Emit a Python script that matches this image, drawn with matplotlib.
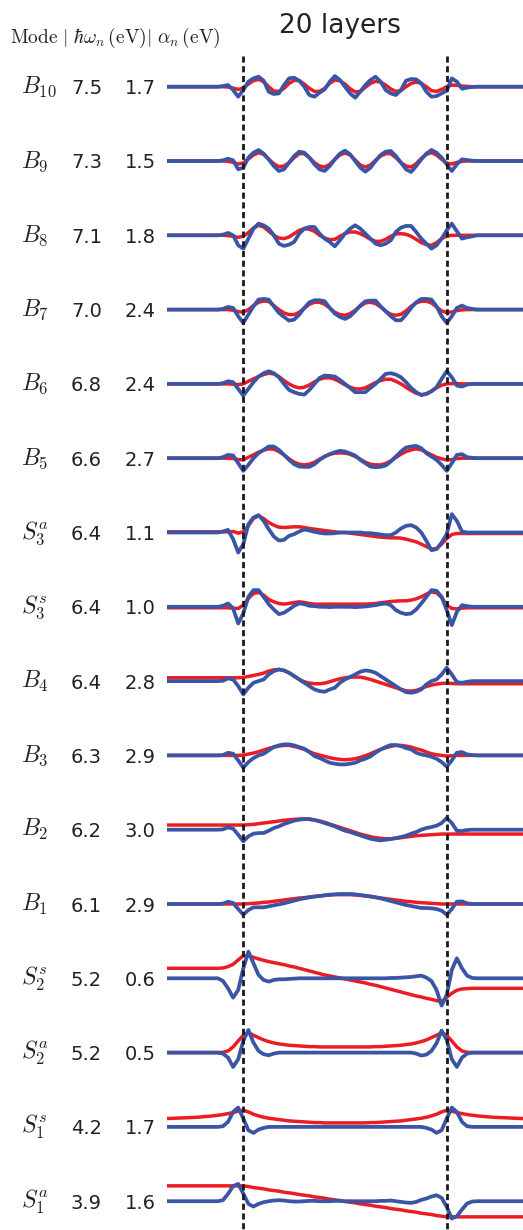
import matplotlib
matplotlib.use('Agg')
import matplotlib.pyplot as plt

plt.rcParams['mathtext.fontset'] = 'cm'
plt.rcParams['font.family'] = ['DejaVu Sans']

# ---------------- data ----------------
layer_pos = [-7.55, -6, -4.5, -3, -2.5, -2, -1.5, -1, -0.5,
             0, 0.5, 1, 1.5, 2, 2.5, 3, 3.5, 4, 4.5,
             5, 5.5, 6, 6.5, 7, 7.5, 8, 8.5, 9, 9.5,
             10, 10.5, 11, 11.5, 12, 12.5, 13, 13.5, 14, 14.5,
             15, 15.5, 16, 16.5, 17, 17.5, 18, 18.5, 19, 19.5,
             20, 20.5, 21, 21.5, 22, 22.5, 23, 24.5, 26, 27.5]

modes = [r'$B_{10}$', r'$B_9$', r'$B_8$', r'$B_7$', r'$B_6$', r'$B_5$',
         r'$S_3^a$', r'$S_3^s$', r'$B_4$', r'$B_3$', r'$B_2$', r'$B_1$',
         r'$S_2^s$', r'$S_2^a$', r'$S_1^s$', r'$S_1^a$']
energies = ['7.5', '7.3', '7.1', '7.0', '6.8', '6.6', '6.4', '6.4',
            '6.4', '6.3', '6.2', '6.1', '5.2', '5.2', '4.2', '3.9']
alphas = ['1.7', '1.5', '1.8', '2.4', '2.4', '2.7', '1.1', '1.0',
          '2.8', '2.9', '3.0', '2.9', '0.6', '0.5', '1.7', '1.6']

blue_B10 = [0,0,0,0,0,2,5,-10,-30,
            -10,15,25,30,18,-15,-22,-20,5,25,
            27,18,0,-25,-30,-18,-8,15,32,20,
            0,-20,-33,-15,5,20,30,15,-10,-20,
            -25,-10,18,23,22,10,-15,-30,-28,-20,
            -12,25,15,-6,-3,-1,0,0,0,0]
red_B10 = [0,0,0,0,0,0,-1,-4,-8,
           -4,8,18,22,15,0,-13,-14,-5,10,
           19,18,8,-5,-14,-14,-5,10,20,18,
           8,-6,-16,-14,-2,10,16,14,5,-7,
           -14,-12,0,10,14,10,0,-12,-14,-8,
           0,5,4,2,1,0,0,0,0,0]
blue_B9 = [0,0,0,0,0,2,7,2,-25,
           -20,10,25,33,22,5,-15,-30,-25,-5,
           15,28,25,10,-10,-25,-30,-15,5,22,
           31,20,0,-20,-32,-20,0,18,28,30,
           15,-5,-25,-33,-15,5,22,33,25,10,
           -10,-30,-10,5,3,1,0,0,0,0]
red_B9 = [0,0,0,0,0,0,-1,-4,-9,
          -6,6,18,25,20,5,-8,-17,-15,-5,
          10,22,22,10,-5,-15,-18,-10,5,18,
          24,18,3,-12,-18,-12,2,15,22,22,
          10,-5,-15,-18,-8,8,20,25,18,5,
          -6,-9,-4,-1,0,0,0,0,0,0]
blue_B8 = [0,0,0,0,0,2,7,0,-30,
           -40,-10,20,35,30,20,0,-25,-32,-28,
           -20,5,20,25,25,5,-10,-20,-33,-15,
           5,20,30,20,5,-10,-25,-30,-25,-15,
           10,23,28,28,10,-10,-25,-40,-30,-10,
           15,35,12,-10,-6,-3,0,0,0,0]
red_B8 = [0,0,0,0,0,0,-1,-3,-6,
          -3,8,22,30,25,12,0,-8,-10,-5,
          5,15,20,18,12,0,-8,-13,-12,-3,
          5,10,10,5,-3,-12,-18,-18,-12,-3,
          4,5,3,-3,-12,-22,-28,-30,-22,-10,
          -2,0,0,0,0,0,0,0,0,0]
blue_B7 = [0,0,0,0,0,2,8,5,-20,
           -40,-15,10,30,32,30,10,-10,-22,-33,
           -30,-15,5,22,28,28,25,5,-12,-22,
           -28,-20,-5,12,25,27,27,10,-5,-20,
           -32,-32,-15,5,22,32,32,30,10,-20,
           -40,-20,5,12,5,2,0,0,0,0]
red_B7 = [0,0,0,0,0,0,0,-2,-6,
          -8,0,12,22,26,24,12,0,-10,-15,
          -15,-8,4,16,22,22,16,5,-8,-15,
          -17,-12,-2,10,20,22,18,8,-5,-14,
          -17,-14,-4,10,20,25,25,20,8,-4,
          -9,-7,-3,-1,0,0,0,0,0,0]
blue_B6 = [0,0,0,0,0,2,8,5,-15,
           -35,-15,5,22,32,38,32,20,0,-18,
           -25,-30,-32,-18,0,18,25,24,22,12,
           0,-12,-25,-25,-25,-12,0,15,30,32,
           28,20,5,-12,-25,-34,-30,-22,-10,15,
           38,20,-5,-8,-2,0,0,0,0,0]
red_B6 = [0,0,0,0,0,0,0,-1,-2,
          0,8,15,22,28,32,30,22,10,0,
          -8,-12,-10,-3,6,14,18,18,14,6,
          -3,-10,-15,-15,-12,-4,4,10,14,14,
          8,0,-10,-20,-28,-32,-30,-22,-12,-4,
          0,1,1,0,0,0,0,0,0,0]
blue_B5 = [0,0,0,0,0,3,10,8,-15,
           -38,-20,0,15,25,35,35,25,10,-5,
           -18,-25,-26,-26,-18,-5,5,12,18,22,
           20,14,8,-5,-15,-25,-27,-26,-22,-10,
           5,20,32,35,37,30,15,5,-5,-20,
           -38,-15,10,12,3,1,0,0,0,0]
red_B5 = [0,0,0,0,0,0,0,-1,-4,
          -5,3,10,18,24,28,27,20,10,-2,
          -12,-18,-20,-18,-12,-3,5,12,15,16,
          15,12,5,-3,-12,-18,-20,-20,-16,-8,
          2,12,20,25,28,25,18,10,3,-2,
          -5,-4,-1,0,0,0,0,0,0,0]
blue_S3a = [0,0,0,0,0,3,8,-20,-60,
            -35,25,45,52,35,10,-12,-24,-22,-10,
            -5,3,9,6,2,-1,-3,-3,-2,0,
            0,0,0,0,-2,-2,-4,-6,-8,-8,
            0,12,20,22,15,0,-25,-53,-50,-30,
            -5,55,35,3,0,0,0,0,0,0]
red_S3a = [2,2,2,2,2,2,2,3,-2,
           2,20,42,50,42,30,22,16,15,16,
           17,17,15,12,10,8,6,4,2,0,
           0,-2,-4,-6,-8,-10,-12,-14,-15,-16,
           -16,-17,-20,-24,-28,-35,-42,-50,-48,-35,
           -18,-6,-3,-3,-3,-3,-3,-3,-3,-3]
blue_S3s = [0,0,0,0,0,3,10,-5,-50,
            -20,30,50,50,30,8,-8,-22,-18,-8,
            3,10,8,3,2,0,0,-1,0,0,
            0,0,-1,0,1,3,5,8,10,5,
            -10,-18,-22,-20,-8,10,30,50,48,30,
            -10,-55,-15,5,2,0,0,0,0,0]
red_S3s = [-3,-3,-3,-3,-3,-3,-3,-4,-5,
           5,25,40,43,35,22,15,10,8,10,
           13,15,13,10,8,8,8,8,8,8,
           8,8,8,8,8,9,10,12,14,16,
           17,18,18,20,24,30,38,45,42,28,
           5,-5,-6,-4,-3,-3,-3,-3,-3,-3]
blue_B4 = [0,0,0,0,0,1,8,5,-15,
           -40,-20,-5,0,5,20,30,35,32,25,
           15,5,-5,-15,-25,-30,-32,-25,-20,-5,
           5,12,20,28,32,30,25,15,5,-5,
           -15,-25,-33,-35,-32,-25,-10,0,5,20,
           40,20,-3,-5,-2,0,0,0,0,0]
red_B4 = [10,10,10,10,10,10,10,10,10,
          11,14,17,20,24,30,34,35,32,25,
          15,5,-2,-6,-8,-8,-6,-2,3,7,
          10,12,12,12,9,5,0,-5,-10,-15,
          -20,-25,-29,-30,-28,-22,-16,-12,-9,-7,
          -6,-7,-8,-8,-8,-8,-8,-8,-8,-8]
blue_B3 = [0,0,0,0,0,1,8,5,-15,
           -37,-20,-8,0,5,15,25,30,33,33,
           30,25,20,10,-2,-8,-15,-22,-25,-27,
           -27,-25,-22,-15,-10,-3,8,18,25,31,
           31,28,22,18,8,3,0,-4,-10,-20,
           -34,-15,8,10,3,1,0,0,0,0]
red_B3 = [0,0,0,0,0,0,0,0,0,
          1,4,7,11,16,21,25,28,30,30,
          27,23,18,11,5,1,-3,-7,-10,-12,
          -13,-12,-10,-6,-1,5,12,18,23,27,
          30,30,28,25,20,16,10,5,2,0,
          -2,-1,0,0,0,0,0,0,0,0]
blue_B2 = [0,0,0,0,0,1,7,3,-15,
           -35,-20,-12,-10,-10,-3,5,10,17,22,
           27,30,32,32,29,25,20,15,10,3,
           -3,-7,-12,-17,-22,-27,-30,-32,-30,-28,
           -25,-22,-18,-12,-7,0,5,8,12,20,
           35,20,-3,-4,-1,0,0,0,0,0]
red_B2 = [14,14,14,14,14,14,14,14,14,
          14,15,16,18,20,22,24,26,28,30,
          31,32,32,31,29,26,22,17,12,7,
          2,-3,-8,-13,-17,-21,-24,-26,-27,-27,
          -26,-24,-22,-20,-18,-17,-16,-15,-14,-13,
          -13,-13,-13,-13,-13,-13,-13,-13,-13,-13]
blue_B1 = [0,0,0,0,0,1,7,3,-15,
           -32,-18,-10,-10,-10,-7,-4,-1,2,6,
           10,14,17,20,22,24,26,28,29,30,
           30,30,29,27,25,23,20,17,13,9,
           5,1,-3,-6,-9,-12,-12,-13,-15,-20,
           -32,-15,7,8,2,0,0,0,0,0]
red_B1 = [0,0,0,0,0,0,0,0,0,
          0,1,2,3,5,6,8,10,12,14,
          16,18,19,21,23,24,26,27,28,28,
          28,28,27,26,24,22,20,18,16,14,
          12,10,8,7,5,4,3,2,1,0,
          0,0,0,0,0,0,0,0,0,0]
blue_S2s = [0,0,0,0,0,-8,-30,-58,-35,
            30,80,45,10,-5,-10,-5,-3,-3,-2,
            -1,0,0,0,0,0,0,0,0,0,
            0,0,0,0,0,0,0,0,0,1,
            1,2,3,4,6,8,2,-8,-35,-82,
            -50,25,60,30,8,1,0,0,0,0]
red_S2s = [30,30,30,30,30,31,35,42,55,
           68,67,63,58,54,50,47,44,41,37,
           34,30,26,22,18,14,10,7,4,1,
           -2,-5,-8,-11,-14,-18,-21,-25,-29,-33,
           -37,-41,-45,-49,-53,-56,-60,-63,-67,-70,
           -57,-45,-36,-32,-31,-30,-30,-30,-30,-30]
blue_S2a = [0,0,0,0,0,-3,-15,-43,-20,
            35,68,30,5,-5,-8,-3,0,0,0,
            0,0,0,0,0,0,0,0,0,0,
            0,0,0,0,0,0,0,0,0,0,
            0,0,0,0,-3,-9,-6,5,28,66,
            38,-20,-43,-15,-3,0,0,0,0,0]
red_S2a = [0,0,0,0,0,1,5,17,35,
           52,60,52,45,38,33,29,26,24,22,
           21,20,19,18,18,17,17,17,17,17,
           17,17,17,17,17,17,18,18,19,20,
           21,22,24,26,29,33,38,45,52,60,
           52,35,17,5,1,0,0,0,0,0]
blue_S1s = [0,0,0,0,0,2,15,45,58,
            25,-10,-18,-8,-3,0,0,0,0,0,
            0,0,0,0,0,0,0,0,0,0,
            0,0,0,0,0,0,0,0,0,0,
            0,0,0,0,0,0,-3,-8,-18,-10,
            25,58,45,15,2,0,0,0,0,0]
red_S1s = [25,27,29,33,35,37,40,43,47,
           50,45,38,33,29,26,24,22,20,18,
           17,16,15,14,13,13,12,12,12,12,
           12,12,12,12,12,13,13,14,15,16,
           17,18,20,22,24,26,29,33,38,45,
           50,47,43,40,37,35,33,29,27,25]
blue_S1a = [0,0,0,0,0,3,22,45,52,
            23,-8,-16,-8,-3,0,2,3,2,0,
            -1,-1,0,1,1,0,0,0,1,1,
            0,0,0,0,0,0,0,1,1,2,
            0,-2,-4,-5,-2,4,8,14,18,10,
            -17,-52,-45,-25,-7,-1,0,0,0,0]
red_S1a = [46,46,46,46,46,46,46,46,46,
           46,44,41,39,37,34,32,30,27,25,
           23,20,18,16,13,11,9,6,4,2,
           -1,-3,-5,-8,-10,-12,-15,-17,-19,-22,
           -24,-26,-29,-31,-33,-36,-38,-40,-43,-45,
           -47,-47,-47,-47,-47,-47,-47,-47,-47,-47]

blue_curves = [blue_B10, blue_B9, blue_B8, blue_B7, blue_B6, blue_B5,
               blue_S3a, blue_S3s, blue_B4, blue_B3, blue_B2, blue_B1,
               blue_S2s, blue_S2a, blue_S1s, blue_S1a]
red_curves = [red_B10, red_B9, red_B8, red_B7, red_B6, red_B5,
              red_S3a, red_S3s, red_B4, red_B3, red_B2, red_B1,
              red_S2s, red_S2a, red_S1s, red_S1a]

for c in blue_curves + red_curves:
    assert len(c) == len(layer_pos), len(c)

# ---------------- layout ----------------
W, H = 523, 1230
row0, pitch = 86.7, 74.3          # pixel position of first row and row spacing
amp_scale = 3 * pitch              # curve values are in units of 1/3 pixel
BLUE, RED, INK = '#3a55a5', '#ec1c24', '#222222'

fig = plt.figure(figsize=(W / 100, H / 100), dpi=100)
ax = fig.add_axes([166.5 / W, 0, 1 - 166.5 / W, 1])
ax.set_xlim(layer_pos[0], layer_pos[-1])
ax.set_ylim(-(H - row0) / pitch, row0 / pitch)
ax.axis('off')

for i, (b, r) in enumerate(zip(blue_curves, red_curves)):
    ax.plot(layer_pos, [-i + v / amp_scale for v in r], color=RED, lw=2.5,
            zorder=2, solid_joinstyle='round')
    ax.plot(layer_pos, [-i + v / amp_scale for v in b], color=BLUE, lw=2.7,
            zorder=3, solid_joinstyle='round')

for xb in (0, 20):
    ax.plot([xb, xb], [(row0 - 56) / pitch, -(H - row0) / pitch],
            color='#1a1a1a', lw=2.0, ls=(0, (2.2, 1.3)), zorder=4)

# ---------------- text ----------------
fig.text(340 / W, 1 - 33.3 / H, '20 layers', fontsize=19, ha='center',
         va='baseline', color=INK)
fig.text(10 / W, 1 - 42.7 / H,
         r'$\mathrm{Mode}\ |\ \hbar\omega_n\,(\mathrm{eV})|\ \alpha_n\,(\mathrm{eV})$',
         fontsize=14, ha='left', va='baseline', color=INK)

for i in range(len(modes)):
    yp = row0 + pitch * i
    fig.text(21 / W, 1 - (yp + 6.5) / H, modes[i], fontsize=17, ha='left',
             va='baseline', color=INK)
    fig.text(71 / W, 1 - (yp + 7.5) / H, energies[i], fontsize=14, ha='left',
             va='baseline', color=INK)
    fig.text(125 / W, 1 - (yp + 7.5) / H, alphas[i], fontsize=14, ha='left',
             va='baseline', color=INK)

fig.savefig('out.png', dpi=100)
